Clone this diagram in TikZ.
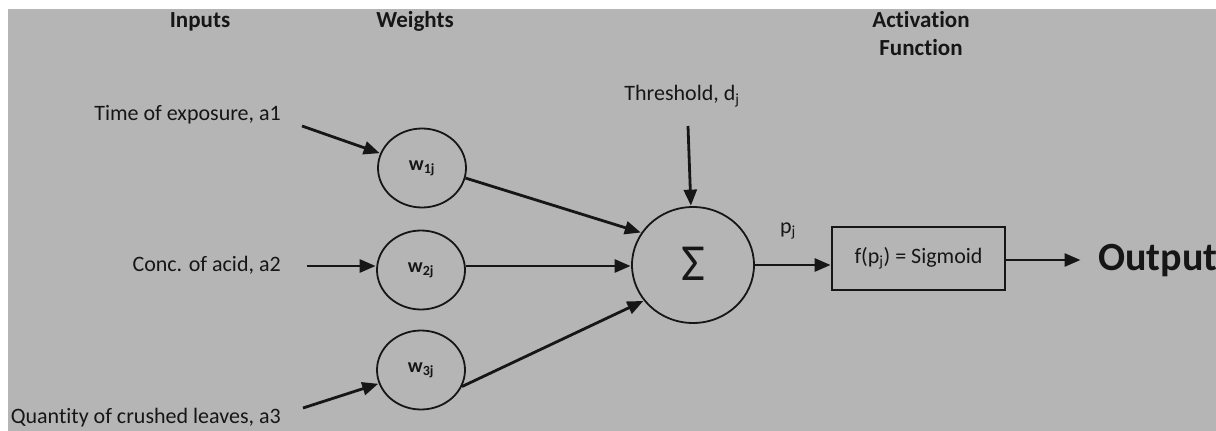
\documentclass[tikz,border=0pt]{standalone}
\usepackage{fontspec}
\setmainfont{Carlito}[Ligatures=NoCommon]
\usetikzlibrary{arrows.meta,shapes.geometric}
\definecolor{panel}{RGB}{181,181,181}
\definecolor{ink}{RGB}{22,22,22}
\tikzset{
  lbl/.style={text=ink,inner sep=0pt,font=\fontsize{22}{25}\selectfont},
  head/.style={text=ink,inner sep=0pt,font=\fontsize{23}{28}\selectfont\bfseries,align=center},
  wnode/.style={ellipse,draw=ink,line width=1.8pt,minimum width=88pt,minimum height=79pt,inner sep=0pt,
    text=ink,font=\fontsize{20}{22}\selectfont\bfseries},
  sumnode/.style={ellipse,draw=ink,line width=1.8pt,minimum width=122pt,minimum height=116pt,inner sep=0pt,text=ink},
  fbox/.style={draw=ink,line width=1.8pt,minimum width=173pt,minimum height=63pt,inner sep=0pt,
    text=ink,font=\fontsize{22}{25}\selectfont},
  conn/.style={draw=ink,line width=2.8pt,-{Triangle[length=16pt,width=13pt]},shorten >=0.5pt}
}
\begin{document}
\begin{tikzpicture}[x=1pt,y=-1pt]
  \useasboundingbox (0,0) rectangle (1216,431);
  \fill[white] (0,0) rectangle (1216,431);
  \fill[panel] (8,9) rectangle (1216,431);

  % column headings
  \node[head] (hin) at (200,22) {Inputs};
  \node[head] (hw) at (415,21) {Weights};
  \node[head] (hact) at (921,34) {Activation\\Function};

  % inputs
  \node[lbl,anchor=east] (in1) at (281,115) {Time of exposure, a1};
  \node[lbl,anchor=east] (in2) at (281,265) {Conc. of acid, a2};
  \node[lbl,anchor=east] (in3) at (281,418) {Quantity of crushed leaves, a3};
  \coordinate (s1) at (302,126);
  \coordinate (s2) at (307,266);
  \coordinate (s3) at (303,408);

  % weights
  \node[wnode] (w1) at (422,168) {w\textsubscript{1j}};
  \node[wnode] (w2) at (421,270) {w\textsubscript{2j}};
  \node[wnode] (w3) at (421,370) {w\textsubscript{3j}};

  % summing junction
  \node[sumnode] (sum) at (693,265) {\fontsize{52}{52}\selectfont\raisebox{3pt}{Σ}};
  \node[lbl] (thr) at (682,96) {Threshold, d\textsubscript{j}};
  \coordinate (ts) at (688,126);
  \node[lbl] (pj) at (788,231) {p\textsubscript{j}};

  % activation
  \node[fbox] (act) at (918.5,258.5) {\raisebox{7pt}{f(p\textsubscript{j}) = Sigmoid}};
  \node[text=ink,inner sep=0pt,anchor=west,font=\fontsize{40}{42}\selectfont\bfseries] (out) at (1098,261) {Output};
  \coordinate (oe) at (1081,260);

  % connectors
  \draw[conn] (s1) -- (w1);
  \draw[conn] (s2) -- (s2 -| w2.west);
  \draw[conn] (s3) -- (w3);
  \draw[conn] (w1.-13) -- (sum.148);
  \draw[conn] (w2.east |- s2) -- (s2 -| sum.west);
  \draw[conn] (w3.-22) -- (sum.-144);
  \draw[conn] (ts) -- (sum);
  \draw[conn] (sum.east) -- (sum.east -| act.west);
  \draw[conn] (act.east |- oe) -- (oe);
\end{tikzpicture}
\end{document}
